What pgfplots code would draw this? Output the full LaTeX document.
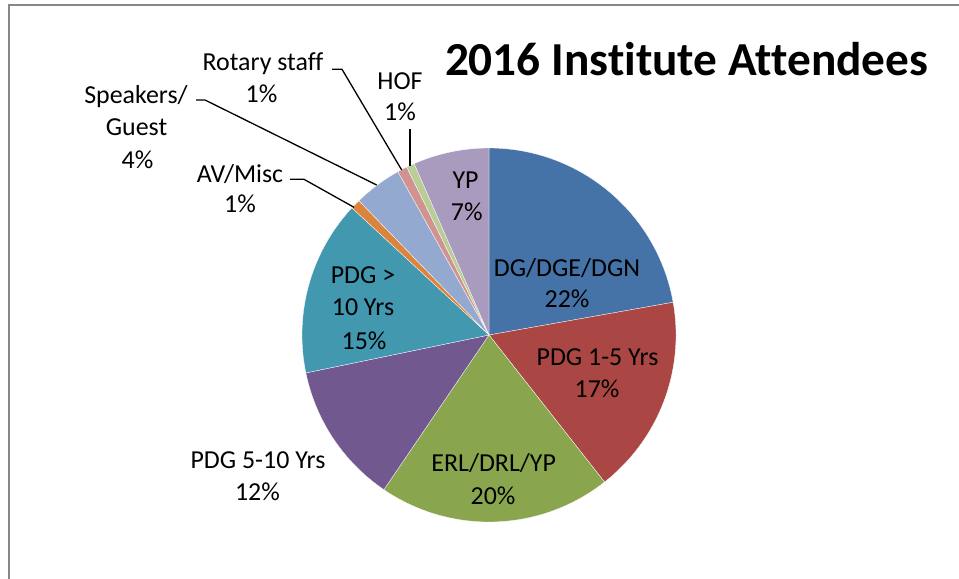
\documentclass[border=0pt]{standalone}
\usepackage{pgfplots}
\pgfplotsset{compat=1.18}
\usepackage{fontspec}
\setmainfont[Ligatures={NoCommon}]{Carlito}
\definecolor{cDG}{HTML}{4572A7}
\definecolor{cPA}{HTML}{AA4643}
\definecolor{cER}{HTML}{89A54E}
\definecolor{cPB}{HTML}{71588F}
\definecolor{cPC}{HTML}{4198AF}
\definecolor{cAV}{HTML}{DB843D}
\definecolor{cSP}{HTML}{93A9CF}
\definecolor{cRS}{HTML}{D19392}
\definecolor{cHF}{HTML}{B9CD96}
\definecolor{cYP}{HTML}{A99BBD}
\definecolor{frame}{HTML}{878787}
% shares (percent), clockwise from 12 o'clock
\def\vDG{22.2}\def\vPA{17.2}\def\vER{20.1}\def\vPB{12.25}\def\vPC{15.15}
\def\vAV{0.85}\def\vSP{4.15}\def\vRS{0.85}\def\vHF{0.7}\def\vYP{6.55}
\begin{document}
\begin{tikzpicture}
\pgfmathsetmacro\aA{0}
\pgfmathsetmacro\aB{\aA+3.6*\vDG}
\pgfmathsetmacro\aC{\aB+3.6*\vPA}
\pgfmathsetmacro\aD{\aC+3.6*\vER}
\pgfmathsetmacro\aE{\aD+3.6*\vPB}
\pgfmathsetmacro\aF{\aE+3.6*\vPC}
\pgfmathsetmacro\aG{\aF+3.6*\vAV}
\pgfmathsetmacro\aH{\aG+3.6*\vSP}
\pgfmathsetmacro\aI{\aH+3.6*\vRS}
\pgfmathsetmacro\aJ{\aI+3.6*\vHF}
\pgfmathsetmacro\aK{\aJ+3.6*\vYP}
\begin{axis}[
  scale only axis, width=959bp, height=579bp,
  xmin=0, xmax=959, ymin=0, ymax=579, y dir=reverse,
  hide axis, clip=false,
]
\newcommand\slice[3]{%
  \addplot[fill=#1, draw=white, line width=0.3bp, domain=#2:#3, samples=80, variable=\t]
    ({489+187*sin(\t)}, {335-187*cos(\t)}) -- (axis cs:489,335) -- cycle;}
\slice{cDG}{\aA}{\aB}
\slice{cPA}{\aB}{\aC}
\slice{cER}{\aC}{\aD}
\slice{cPB}{\aD}{\aE}
\slice{cPC}{\aE}{\aF}
\slice{cAV}{\aF}{\aG}
\slice{cSP}{\aG}{\aH}
\slice{cRS}{\aH}{\aI}
\slice{cHF}{\aI}{\aJ}
\slice{cYP}{\aJ}{\aK}
% frame
\addplot[frame, line width=1.5bp] coordinates {(9,579) (9,5) (959,5)};
% leader lines
\addplot[black, line width=1.3bp] coordinates {(410,129) (410,165.7)};
\addplot[black, line width=1.3bp] coordinates {(332,69.3) (342,69.3) (401.7,170)};
\addplot[black, line width=1.3bp] coordinates {(196,100) (205,100) (376.7,185)};
\addplot[black, line width=1.3bp] coordinates {(290,179.3) (304,179.3) (354,207.3)};
% labels
\newcommand\lbl[3]{\node[anchor=base, inner sep=0pt, font=\fontsize{26}{31}\selectfont] at (axis cs:#1,#2) {#3};}
\lbl{567}{276.4}{DG/DGE/DGN}
\lbl{567}{307.4}{22\%}
\lbl{597.5}{365.4}{PDG 1-5 Yrs}
\lbl{597}{397}{17\%}
\lbl{493.7}{471.7}{ERL/DRL/YP}
\lbl{493}{504}{20\%}
\lbl{258}{468.4}{PDG 5-10 Yrs}
\lbl{257.5}{500}{12\%}
\lbl{363}{283.4}{PDG >}
\lbl{363}{315.4}{10 Yrs}
\lbl{364}{349}{15\%}
\lbl{465.5}{188.3}{YP}
\lbl{466.7}{220}{7\%}
\lbl{400}{89.4}{HOF}
\lbl{400}{120}{1\%}
\lbl{263}{71}{Rotary staff}
\lbl{261.5}{102}{1\%}
\lbl{136}{103}{Speakers/}
\lbl{136.5}{135}{Guest}
\lbl{137.5}{168}{4\%}
\lbl{240}{182}{AV/Misc}
\lbl{240}{212}{1\%}
\node[anchor=base, inner sep=0pt, font=\fontsize{47.5}{56}\selectfont\bfseries] at (axis cs:686.6,76) {2016 Institute Attendees};
\end{axis}
\pgfresetboundingbox
\path[use as bounding box] (current axis.south west) rectangle (current axis.north east);
\end{tikzpicture}
\end{document}
